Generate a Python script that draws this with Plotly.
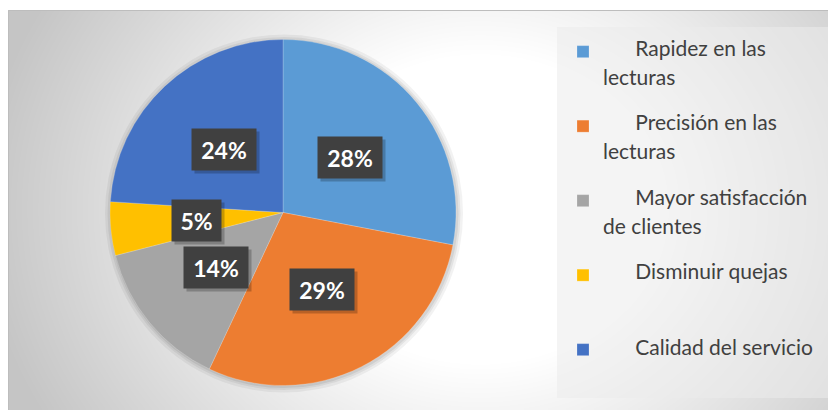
import textwrap
import numpy as np
import plotly.graph_objects as go

# ---- data ----
categories = ["Rapidez en las lecturas", "Precisión en las lecturas",
              "Mayor satisfacción de clientes", "Disminuir quejas",
              "Calidad del servicio"]
values = [28, 29, 14, 5, 24]
colors = ["#5B9BD5", "#ED7D31", "#A5A5A5", "#FFC000", "#4472C4"]

# The page body has an 8px margin: the figure is drawn from (8, 8) of the window.
OFF = 8
FW, FH = 836 - OFF, 410 - OFF
NB = "\u00a0"


def px_x(X):  # window pixel -> paper x
    return (X - OFF) / FW


def px_y(Y):  # window pixel (from top) -> paper y
    return (FH - (Y - OFF)) / FH


# legend labels: indented first line, big text on a small-line-height grid
BIG = "<span style='font-size:21px'>{}</span>"
legend_labels = []
for i, c in enumerate(categories):
    lines = textwrap.wrap(c, width=20)
    lines[0] = NB * 6 + lines[0]
    rows = []
    for ln in lines:
        rows += [BIG.format(ln), NB]
    if i < len(categories) - 1:
        while len(rows) < 5:
            rows.append(NB)
        rows = rows[:5]
    else:
        rows = rows[:1]
    legend_labels.append("<br>".join(rows))

# ---- background gradient (decoration) ----
gx = np.arange(8, 838, 4)
gy = np.arange(10, 414, 4)
XX, YY = np.meshgrid(gx, gy)
d = np.sqrt((XX - 480.0) ** 2 + ((YY - 210.0) * 1.17) ** 2)
t = np.clip((d - 180.0) / 320.0, 0, 1)
gz = 255 - 58 * t

fig = go.Figure()
fig.add_trace(go.Heatmap(x=gx, y=gy, z=gz, zmin=0, zmax=255, zsmooth="best",
                         colorscale=[[0, "#000000"], [1, "#ffffff"]],
                         showscale=False, hoverinfo="skip"))

# pie geometry (window pixels)
pcx, pcy, R = 283.0, 212.5, 173.0


def dom(r, dx=0.0, dy=0.0):
    return dict(x=[px_x(pcx + dx - r), px_x(pcx + dx + r)],
                y=[px_y(pcy + dy + r), px_y(pcy + dy - r)])


# soft shadow around the pie
for extra, alpha in [(6, 0.05), (3.5, 0.06), (1.5, 0.07)]:
    fig.add_trace(go.Pie(values=[sum(values)], labels=["s"], domain=dom(R + extra, 1, 1),
                         marker=dict(colors=[f"rgba(0,0,0,{alpha})"], line=dict(width=0)),
                         textinfo="none", hoverinfo="skip", showlegend=False, sort=False))

fig.add_trace(go.Pie(
    labels=legend_labels, values=values, sort=False, direction="clockwise",
    rotation=0, domain=dom(R),
    marker=dict(colors=colors, line=dict(color="rgba(255,255,255,0.4)", width=0.5)),
    textinfo="none", hoverinfo="percent", showlegend=True))

# data labels in dark boxes, at mid-angle of each slice
total = sum(values)
annotations = []
cum = 0.0
for v in values:
    mid = (cum + v / 2) / total * 2 * np.pi
    cum += v
    lx = pcx + 0.5 * R * np.sin(mid)
    ly = pcy - 0.5 * R * np.cos(mid)
    txt = f"{round(v / total * 100)}%"
    w = 48 if len(txt) == 3 else 33
    common = dict(x=px_x(lx), y=px_y(ly), xref="paper", yref="paper",
                  xanchor="center", yanchor="middle",
                  showarrow=False, width=w, height=25, borderpad=8)
    # drop shadow box
    annotations.append(dict(common, text=NB, bgcolor="rgba(0,0,0,0.22)",
                            font=dict(family="Lato", size=23),
                            xshift=3, yshift=-3))
    annotations.append(dict(common, text=txt, bgcolor="#404040",
                            font=dict(family="Lato", size=23, color="white", weight="bold")))

shapes = [
    # chart-area border
    dict(type="rect", xref="paper", yref="paper", x0=px_x(8.5), x1=px_x(833.5),
         y0=px_y(412), y1=px_y(10.5), line=dict(color="#bdbdbd", width=1), layer="above"),
    # legend panel
    dict(type="rect", xref="paper", yref="paper", x0=px_x(557), x1=px_x(830),
         y0=px_y(398), y1=px_y(27), fillcolor="rgba(236,236,236,0.56)",
         line=dict(width=0), layer="above"),
]

fig.update_layout(
    width=FW, height=FH, autosize=False,
    margin=dict(l=0, r=0, t=0, b=0),
    paper_bgcolor="white", plot_bgcolor="white",
    xaxis=dict(range=[8, 834], domain=[0, px_x(834)], visible=False, fixedrange=True),
    yaxis=dict(range=[412, 10], domain=[0, px_y(10)], visible=False, fixedrange=True),
    legend=dict(x=px_x(563), xanchor="left", y=px_y(38), yanchor="top",
                valign="top", bgcolor="rgba(0,0,0,0)",
                font=dict(family="Lato", size=11, color="#404040")),
    annotations=annotations,
    shapes=shapes,
)

fig.write_html("out.html")
